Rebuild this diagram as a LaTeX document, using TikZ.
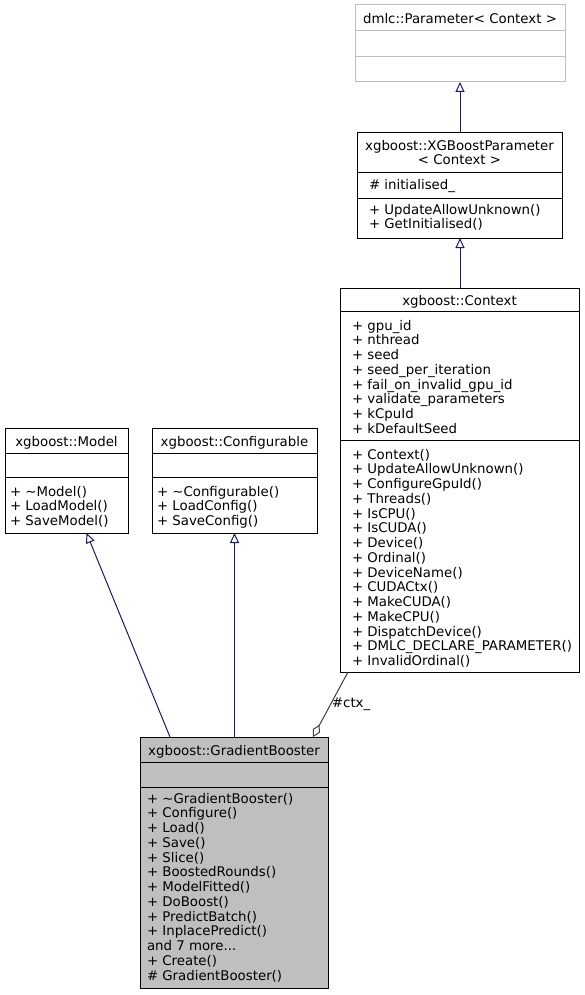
\documentclass[tikz,border=0pt]{standalone}
\usepackage{fontspec}
\setmainfont{DejaVu Sans}
\usetikzlibrary{arrows.meta}

\definecolor{edgeblue}{RGB}{25,25,112}
\definecolor{boxgray}{RGB}{191,191,191}
\definecolor{aggrgray}{RGB}{64,64,64}

\tikzset{
  classbox/.style={draw=black, line width=1pt, inner sep=0pt, outer sep=0pt, anchor=north west},
  sepline/.style={line width=1pt},
  % text block placed at the baseline of its first line
  member/.style={inner sep=0pt, outer sep=0pt, align=left, font=\fontsize{13.33}{14.75}\selectfont,
    execute at begin node=\strut, yshift=9pt, anchor=north west},
  title/.style={member, align=center, anchor=north},
  edgelabel/.style={inner sep=0pt, font=\fontsize{13.33}{14.75}\selectfont},
  inherit/.style={draw=edgeblue, line width=1pt, -{Triangle[open, length=10pt, width=9pt]}},
  aggr/.style={draw=aggrgray, line width=1pt, -{Diamond[open, length=14pt, width=8pt]}}
}

\begin{document}
\begin{tikzpicture}[x=1pt, y=-1pt]
  \useasboundingbox (0,0) rectangle (585,995);

  % dmlc::Parameter< Context > (grey frame)
  \node[classbox, draw=boxgray, minimum width=210pt, minimum height=77pt] (param) at (355,5) {};
  \draw[sepline, boxgray] (355,31) -- (565,31);
  \draw[sepline, boxgray] (355,57) -- (565,57);
  \node[title] (paramtitle) at (460,22) {dmlc::Parameter< Context >};

  % xgboost::XGBoostParameter< Context >
  \node[classbox, minimum width=205pt, minimum height=105pt] (xgbparam) at (357,133) {};
  \draw[sepline] (357,173) -- (562,173);
  \draw[sepline] (357,198) -- (562,198);
  \node[title] (xgbtitle) at (459.5,149) {xgboost::XGBoostParameter\\< Context >};
  \node[member] (xgbattr) at (369,188) {\# initialised\_};
  \node[member] (xgbops) at (369,213) {+ UpdateAllowUnknown()\\+ GetInitialised()};

  % xgboost::Context
  \node[classbox, minimum width=239pt, minimum height=384pt] (ctx) at (340,288) {};
  \draw[sepline] (340,311) -- (579,311);
  \draw[sepline] (340,440) -- (579,440);
  \node[title] (ctxtitle) at (459.5,304) {xgboost::Context};
  \node[member] (ctxattr) at (352,329) {+ gpu\_id\\+ nthread\\+ seed\\+ seed\_per\_iteration\\+ fail\_on\_invalid\_gpu\_id\\+ validate\_parameters\\+ kCpuId\\+ kDefaultSeed};
  \node[member] (ctxops) at (352,458) {+ Context()\\+ UpdateAllowUnknown()\\+ ConfigureGpuId()\\+ Threads()\\+ IsCPU()\\+ IsCUDA()\\+ Device()\\+ Ordinal()\\+ DeviceName()\\+ CUDACtx()\\+ MakeCUDA()\\+ MakeCPU()\\+ DispatchDevice()\\+ DMLC\_DECLARE\_PARAMETER()\\+ InvalidOrdinal()};

  % xgboost::Model
  \node[classbox, minimum width=123pt, minimum height=105pt] (model) at (5,428) {};
  \draw[sepline] (5,453) -- (128,453);
  \draw[sepline] (5,477) -- (128,477);
  \node[title] (modeltitle) at (66.5,445) {xgboost::Model};
  \node[member] (modelops) at (10,495) {+ \textasciitilde Model()\\+ LoadModel()\\+ SaveModel()};

  % xgboost::Configurable
  \node[classbox, minimum width=165pt, minimum height=105pt] (config) at (152,428) {};
  \draw[sepline] (152,453) -- (317,453);
  \draw[sepline] (152,477) -- (317,477);
  \node[title] (configtitle) at (234.5,445) {xgboost::Configurable};
  \node[member] (configops) at (157,495) {+ \textasciitilde Configurable()\\+ LoadConfig()\\+ SaveConfig()};

  % xgboost::GradientBooster (grey fill)
  \node[classbox, fill=boxgray, minimum width=188pt, minimum height=251pt] (booster) at (140,737) {};
  \draw[sepline] (140,762) -- (328,762);
  \draw[sepline] (140,787) -- (328,787);
  \node[title] (boostertitle) at (234,754) {xgboost::GradientBooster};
  \node[member] (boosterops) at (147,802) {+ \textasciitilde GradientBooster()\\+ Configure()\\+ Load()\\+ Save()\\+ Slice()\\+ BoostedRounds()\\+ ModelFitted()\\+ DoBoost()\\+ PredictBatch()\\+ InplacePredict()\\and 7 more...\\+ Create()\\\# GradientBooster()};

  % Inheritance
  \draw[inherit] (xgbparam.north -| param.south) -- (param.south);
  \draw[inherit] (ctx.north -| param.south) -- (xgbparam.south -| param.south);
  \draw[inherit] ([xshift=30pt]booster.north west) -- ([xshift=20pt]model.south);
  \draw[inherit] (booster.north -| config.south) -- (config.south);

  % Member ctx_
  \draw[aggr] ([xshift=8pt]ctx.south west) -- node[edgelabel, right=1pt] (ctxlabel) {\#ctx\_} ([xshift=-15pt]booster.north east);
\end{tikzpicture}
\end{document}
